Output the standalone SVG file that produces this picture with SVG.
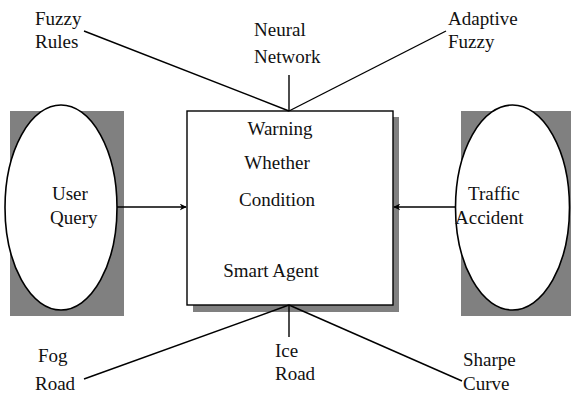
<svg xmlns="http://www.w3.org/2000/svg" width="571" height="397" viewBox="0 0 571 397">
  <style>
    text { font-family: "Liberation Serif", "Times New Roman", serif; font-size: 19px; fill: #111; }
    .line { stroke: #000; stroke-width: 1.4; fill: none; }
    .panel { fill: #808080; }
    .oval { fill: #fff; stroke: #000; stroke-width: 1.6; }
    .box { fill: #fff; stroke: #000; stroke-width: 1.4; }
    .mid { text-anchor: middle; }
  </style>
  <defs>
    <marker id="arrow" viewBox="0 0 10 10" refX="9" refY="5" markerWidth="7" markerHeight="7" markerUnits="userSpaceOnUse" orient="auto">
      <path d="M0,0 L10,5 L0,10 L3,5 z" fill="#000"/>
    </marker>
  </defs>

  <!-- input node: user query -->
  <g id="user-query">
    <rect class="panel" x="10" y="111" width="114" height="205"/>
    <ellipse class="oval" cx="61" cy="207.5" rx="56" ry="102.5"/>
    <text x="52" y="200">User</text>
    <text x="50" y="224">Query</text>
  </g>

  <!-- input node: traffic accident -->
  <g id="traffic-accident">
    <rect class="panel" x="461" y="111" width="110" height="205"/>
    <ellipse class="oval" cx="512.5" cy="207.5" rx="57" ry="102.5"/>
    <text x="468" y="200">Traffic</text>
    <text x="455" y="224">Accident</text>
  </g>

  <!-- central agent box with drop shadow -->
  <g id="smart-agent">
    <rect class="panel" x="193" y="117" width="206" height="195"/>
    <rect class="box" x="187" y="111" width="206" height="194"/>
    <text class="mid" x="280" y="135">Warning</text>
    <text class="mid" x="277" y="169">Whether</text>
    <text class="mid" x="277" y="206">Condition</text>
    <text class="mid" x="271" y="277">Smart Agent</text>
  </g>

  <!-- technique labels above the box -->
  <g id="fuzzy-rules">
    <text x="35" y="25">Fuzzy</text>
    <text x="35" y="48">Rules</text>
  </g>
  <g id="neural-network">
    <text x="254" y="36">Neural</text>
    <text x="254" y="63">Network</text>
  </g>
  <g id="adaptive-fuzzy">
    <text x="448" y="25">Adaptive</text>
    <text x="448" y="48">Fuzzy</text>
  </g>

  <!-- road condition labels below the box -->
  <g id="fog-road">
    <text x="38" y="362">Fog</text>
    <text x="35" y="390">Road</text>
  </g>
  <g id="ice-road">
    <text x="275" y="357">Ice</text>
    <text x="275" y="380">Road</text>
  </g>
  <g id="sharpe-curve">
    <text x="463" y="366">Sharpe</text>
    <text x="463" y="390">Curve</text>
  </g>

  <!-- connectors -->
  <g id="connectors">
    <line class="line" x1="84" y1="31" x2="289" y2="111"/>
    <line class="line" x1="289" y1="75" x2="289" y2="111"/>
    <line class="line" x1="446" y1="31" x2="289" y2="111"/>
    <line class="line" x1="84" y1="379" x2="289" y2="305"/>
    <line class="line" x1="289" y1="337" x2="289" y2="305"/>
    <line class="line" x1="462" y1="381" x2="289" y2="305"/>
    <line class="line" x1="117" y1="207" x2="186" y2="207" marker-end="url(#arrow)"/>
    <line class="line" x1="456" y1="207" x2="394" y2="207" marker-end="url(#arrow)"/>
  </g>
</svg>
